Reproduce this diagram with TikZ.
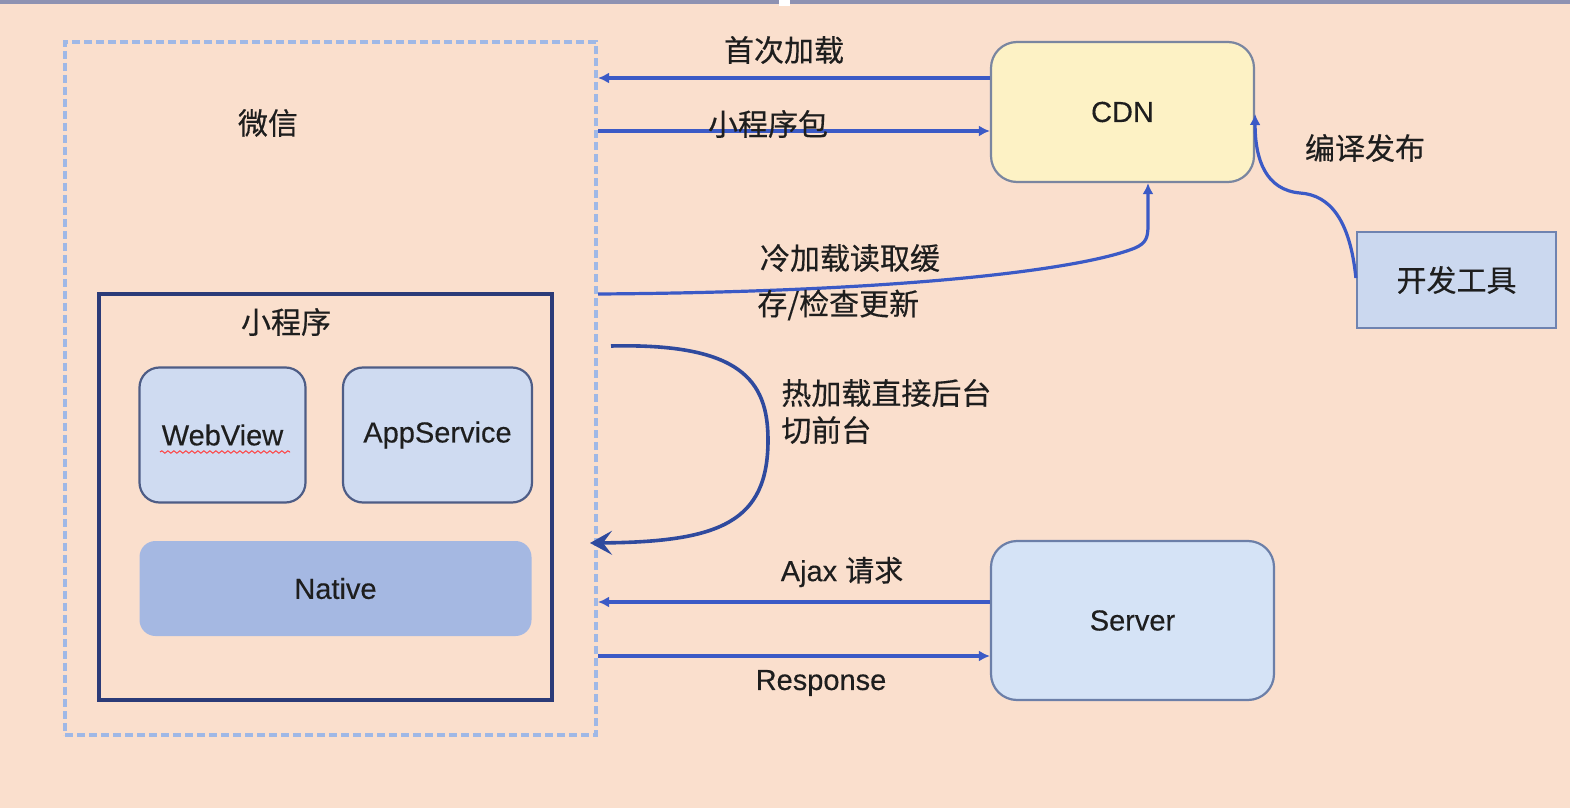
\documentclass[tikz,border=0pt]{standalone}
\usepackage{fontspec}
\setmainfont{Liberation Sans}[FakeBold=0.3]
\newfontfamily\cjk{Noto Sans CJK SC}[FakeBold=0.4]
\usetikzlibrary{arrows.meta,decorations.pathmorphing}
\definecolor{bg}{HTML}{FADFCD}
\definecolor{dashc}{HTML}{9FB8E6}
\definecolor{navy}{HTML}{2B3B78}
\definecolor{subfill}{HTML}{CFDBF1}
\definecolor{subdraw}{HTML}{4E5D86}
\definecolor{nativefill}{HTML}{A5B8E2}
\definecolor{cdnfill}{HTML}{FDF2C5}
\definecolor{cdndraw}{HTML}{7A86A0}
\definecolor{srvfill}{HTML}{D5E3F6}
\definecolor{srvdraw}{HTML}{6C7FA8}
\definecolor{devfill}{HTML}{CBD8EF}
\definecolor{devdraw}{HTML}{6F83B0}
\definecolor{arrc}{HTML}{3B5AC6}
\definecolor{hotc}{HTML}{2F4A9E}
\definecolor{txt}{HTML}{1E1E1E}
\definecolor{topline}{HTML}{8E92B2}
\begin{document}
\begin{tikzpicture}[x=0.5pt,y=-0.5pt,
  zh/.style={font=\cjk\fontsize{15}{18}\selectfont, text=txt, inner sep=0pt},
  en/.style={font=\fontsize{14.5}{17}\selectfont, text=txt, inner sep=0pt},
  subbox/.style={en, draw=subdraw, fill=subfill, line width=1.1pt, rounded corners=10pt},
  arr/.style={draw=arrc, line width=1.6pt, -{Latex[length=5.5pt,width=5.5pt]}},
  hotarr/.style={draw=hotc, line width=1.8pt, -{Stealth[length=11pt,width=12pt,inset=4.5pt]}}]
\fill[bg] (0,0) rectangle (1570,808);
\useasboundingbox (0,0) rectangle (1570,808);
\fill[topline] (0,0) rectangle (1570,4);
\fill[white] (779,0) rectangle (790,6);

% WeChat dashed container
\node[draw=dashc, line width=1.6pt, dash pattern=on 4pt off 2pt, minimum width=265.5pt, minimum height=346.5pt, inner sep=0pt] (wx) at (330.5,388.5) {};
\node[zh] (wxl) at (268,123) {微信};

% Mini program box
\node[draw=navy, line width=1.8pt, minimum width=226.5pt, minimum height=203pt, inner sep=0pt] (mp) at (325.5,497) {};
\node[zh] (mpl) at (286,322) {小程序};

\node[subbox, minimum width=83pt, minimum height=67.5pt] (wv) at (222.5,435) {WebView};
\node[subbox, minimum width=94.5pt, minimum height=67.5pt] (as) at (437.5,435) {AppService};
\node[en, fill=nativefill, rounded corners=8pt, minimum width=196pt, minimum height=47.5pt] (nt) at (335.5,588.5) {Native};
\draw[red!75!white, line width=0.5pt, decorate, decoration={snake,amplitude=0.6pt,segment length=3pt}] (160,452) -- (290,452);

% CDN, Server, Dev tool
\node[en, draw=cdndraw, fill=cdnfill, line width=1.1pt, rounded corners=13pt, minimum width=131.5pt, minimum height=70pt] (cdn) at (1122.5,112) {CDN};
\node[en, draw=srvdraw, fill=srvfill, line width=1.1pt, rounded corners=13pt, minimum width=141.5pt, minimum height=79.5pt] (srv) at (1132.5,620.5) {Server};
\node[zh, draw=devdraw, fill=devfill, line width=1.1pt, minimum width=99.5pt, minimum height=48pt] (dev) at (1456.5,280) {开发工具};

% anchor coordinates on the WeChat side
\coordinate (p1) at (598,78);
\coordinate (p2) at (598,131);
\coordinate (p3) at (598,294);
\coordinate (p4) at (598,602);
\coordinate (p5) at (598,656);
\coordinate (h1) at (611,346);
\coordinate (h2) at (590,543);
\coordinate (c1) at (1148,225);

% arrows
\draw[arr] (cdn.west |- p1) -- (p1);
\node[zh] (l1) at (784,50) {首次加载};
\draw[arr] (p2) -- (cdn.west |- p2);
\node[zh] (l2) at (768,124) {小程序包};

\draw[arr] (p3) .. controls (900,292) and (1080,270) .. (1135,248) .. controls (1146,243) and (1148,238) .. (c1) -- (cdn.south -| c1);
\node[zh] (l3) at (850,258) {冷加载读取缓};
\node[zh, anchor=west] (l4) at (757,305) {存/检查更新};

\draw[hotarr] (h1) .. controls (740,343) and (768,380) .. (768,440) .. controls (768,522) and (720,542) .. (h2);
\node[zh, anchor=west] (l5) at (781,393) {热加载直接后台};
\node[zh, anchor=west] (l6) at (781,430) {切前台};

\draw[arr] (dev.west |- 0,278) .. controls (1350,220) and (1330,195) .. (1300,193) .. controls (1266,190) and (1255,160) .. (cdn.east |- 0,114);
\node[zh] (l7) at (1365,148) {编译发布};

\draw[arr] (srv.west |- p4) -- (p4);
\node[en] (l8) at (842,572) {Ajax {\cjk 请求}};
\draw[arr] (p5) -- (srv.west |- p5);
\node[en] (l9) at (821,683) {Response};
\end{tikzpicture}
\end{document}
